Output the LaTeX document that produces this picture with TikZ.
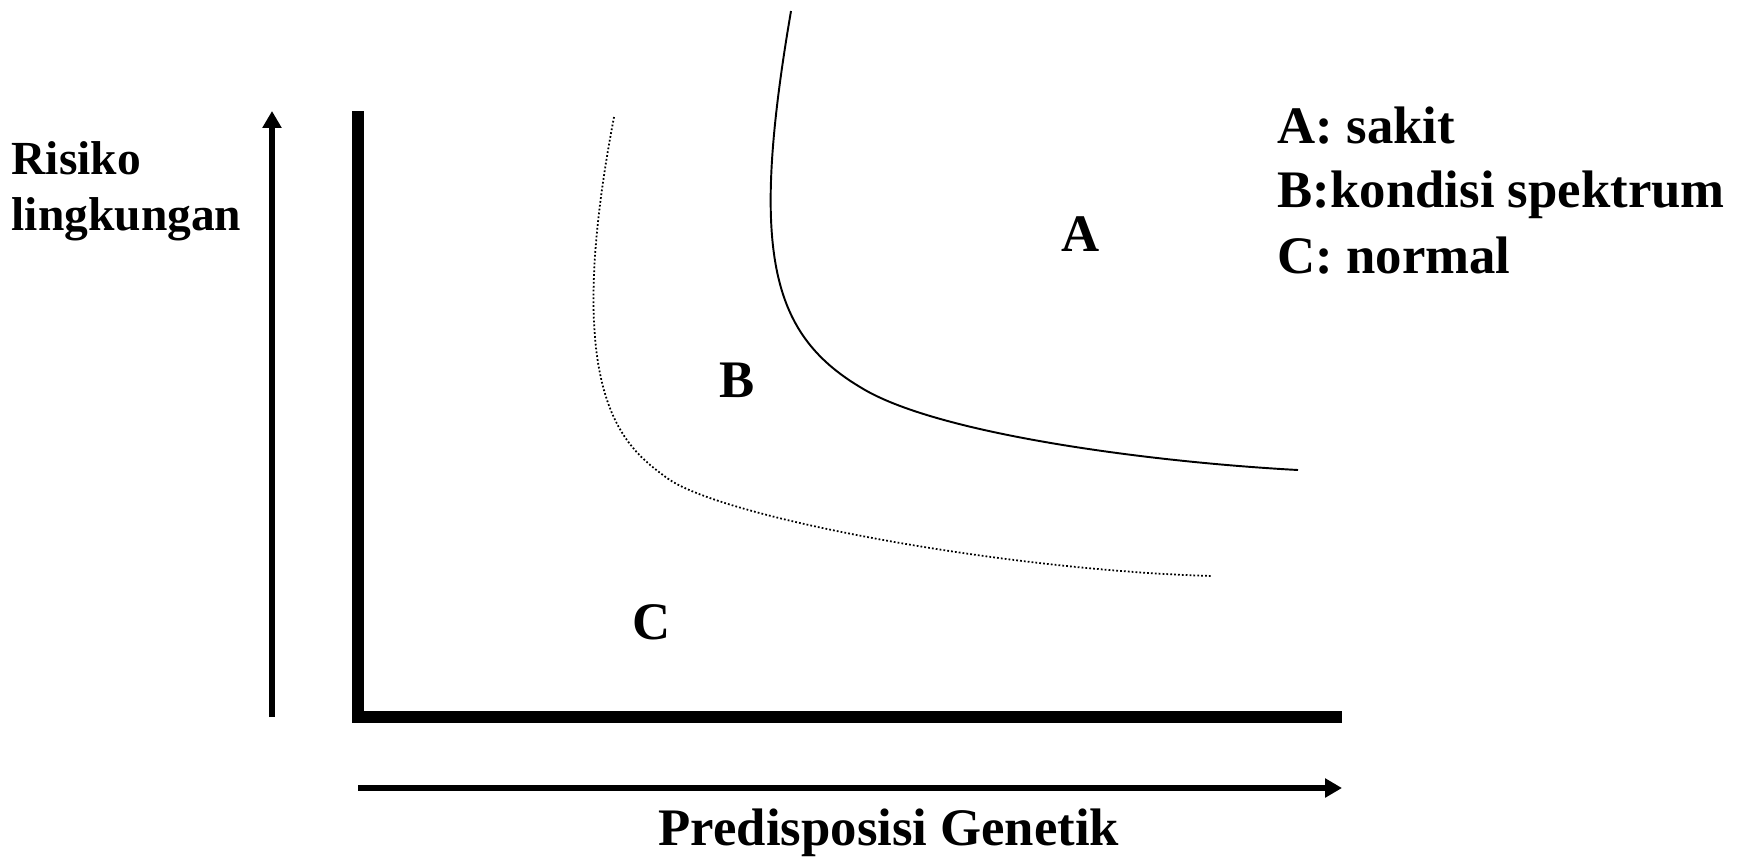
\documentclass[tikz,border=0pt]{standalone}
\usepackage{fontspec}
\setmainfont{Liberation Serif}
\usepackage{tikz}
\usetikzlibrary{
  	arrows.meta,
  	positioning,
  	calc
  }
\tikzstyle{txt}=[inner sep=0pt,font=\fontsize{15}{18}\selectfont\bfseries]
\tikzstyle{axis}=[line width=3.4pt]
\tikzstyle{dir}=[line width=1.8pt,-{Triangle[length=4.8pt,width=5.2pt]}]

\begin{document}
\begin{tikzpicture}[x=0.01cm,y=-0.01cm]
    \useasboundingbox (0,0) rectangle (1742,857);
    \coordinate (o) at (358,717);
    \coordinate (yt) at (358,111);
    \coordinate (xt) at (1342,717);
    \draw [axis] (yt) -- (o) -- (xt);
    \draw [dir] (272,717) -- (272,111);
    \draw [dir] (358,788) -- (1342,788);
    \draw [line width=0.55pt] (791,11) .. controls (750,250) and (770,333) .. (860,387)
        .. controls (935,434) and (1150,462) .. (1298,470);
    \draw [line width=0.5pt,dash pattern=on 0.5pt off 0.6pt] (614,117) .. controls (560,400) and (625,447) .. (667,478)
        .. controls (720,517) and (1000,570) .. (1212,576);
    \node [txt,font=\fontsize{13.5}{16}\selectfont\bfseries,anchor=base west] (r1) at (11,174) {Risiko};
    \node [txt,font=\fontsize{13.5}{16}\selectfont\bfseries,anchor=base west] (r2) at (11,230) {lingkungan};
    \node [txt,anchor=base] (g) at (889,845) {Predisposisi Genetik};
    \node [txt] (a) at (1081,234) {A};
    \node [txt] (b) at (737,380) {B};
    \node [txt] (c) at (652,622) {C};
    \node [txt,anchor=base west] (la) at (1277,143) {A: sakit};
    \node [txt,anchor=base west] (lb) at (1277,207) {B:kondisi spektrum};
    \node [txt,anchor=base west] (lc) at (1277,273) {C: normal};
\end{tikzpicture}
\end{document}
